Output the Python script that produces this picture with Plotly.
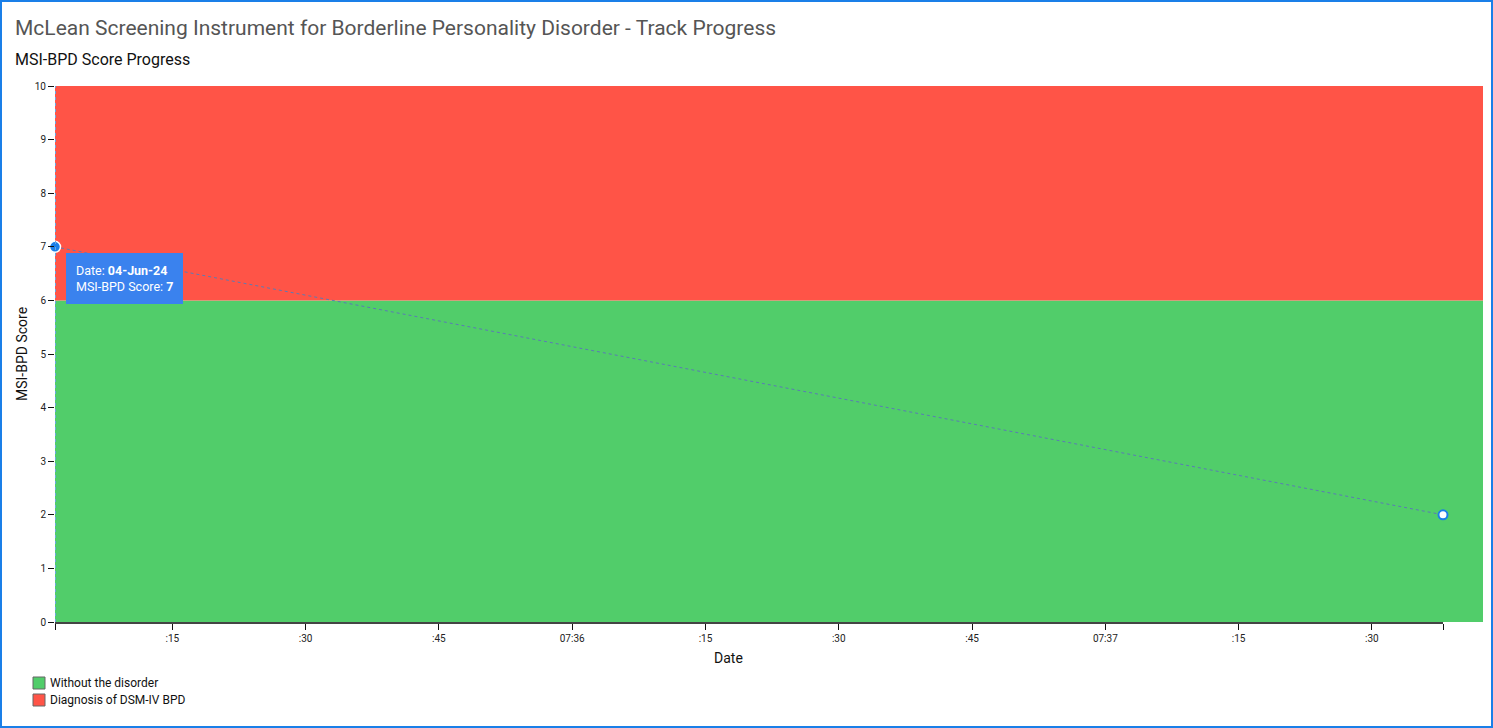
import plotly.graph_objects as go

# ---- data ----
dates = ["2024-06-04 07:35:01.8", "2024-06-04 07:37:38.0"]
scores = [7, 2]
band_labels = ["Without the disorder", "Diagnosis of DSM-IV BPD"]
band_ranges = [(0, 6), (6, 10)]
band_colors = ["#51CD6A", "#FF5447"]
tick_vals = ["2024-06-04 07:35:01.8", "2024-06-04 07:35:15", "2024-06-04 07:35:30",
             "2024-06-04 07:35:45", "2024-06-04 07:36:00", "2024-06-04 07:36:15",
             "2024-06-04 07:36:30", "2024-06-04 07:36:45", "2024-06-04 07:37:00",
             "2024-06-04 07:37:15", "2024-06-04 07:37:30", "2024-06-04 07:37:38.0"]
tick_text = ["", ":15", ":30", ":45", "07:36", ":15", ":30", ":45", "07:37", ":15", ":30", ""]
y_ticks = list(range(0, 11))

W, H = 1493, 728
L, R, T, B = 55, 1443, 86, 622
pw, ph = R - L, B - T


def px_x(x):
    return (x - L) / pw


def px_y(y):
    return (B - y) / ph


FONT = "Roboto, Arial, sans-serif"
fig = go.Figure()

# line
fig.add_trace(go.Scatter(
    x=dates, y=scores, mode="lines", showlegend=False,
    line=dict(color="#5a7bb5", width=1, dash="dot"), hoverinfo="skip"))
# markers
fig.add_trace(go.Scatter(
    x=dates[:1], y=scores[:1], mode="markers", showlegend=False, cliponaxis=False,
    marker=dict(size=11, color="#1a7fe8", line=dict(color="white", width=1.5)), hoverinfo="skip"))
fig.add_trace(go.Scatter(
    x=dates[1:], y=scores[1:], mode="markers", showlegend=False, cliponaxis=False,
    marker=dict(size=9, color="white", line=dict(color="#1a7fe8", width=2)), hoverinfo="skip"))

shapes = []
for (y0, y1), col in zip(band_ranges, band_colors):
    shapes.append(dict(type="rect", xref="paper", yref="y", x0=0, x1=px_x(1483),
                       y0=y0, y1=y1, fillcolor=col, line=dict(width=0), layer="below"))
# hover crosshair
shapes.append(dict(type="line", xref="x", yref="paper", x0=dates[0], x1=dates[0], y0=0, y1=1,
                   line=dict(color="#6aa5de", width=2, dash="dot")))
# page border
shapes.append(dict(type="rect", xref="paper", yref="paper", x0=px_x(1), x1=px_x(1492),
                   y0=px_y(727), y1=px_y(1), line=dict(color="#1a7fe8", width=2),
                   fillcolor="rgba(0,0,0,0)"))

annotations = [
    dict(text="MSI-BPD Score Progress", xref="paper", yref="paper", x=px_x(13), y=px_y(59),
         xanchor="left", yanchor="middle", showarrow=False, font=dict(size=16, color="#111", family=FONT)),
    dict(text="Date", xref="paper", yref="paper", x=px_x(728), y=px_y(658),
         xanchor="center", yanchor="middle", showarrow=False, font=dict(size=14, color="#111", family=FONT)),
    dict(text="Date: <b>" + "04-Jun-24" + "</b><br>MSI-BPD Score: <b>" + str(scores[0]) + "</b>",
         x=dates[0], y=scores[0], xref="x", yref="y", xanchor="left", yanchor="top",
         xshift=11, yshift=-6, showarrow=False, align="left",
         bgcolor="#3a82ee", bordercolor="#3a82ee", borderpad=9,
         font=dict(size=12.5, color="white", family=FONT)),
]

# manual legend
for i, (lab, col) in enumerate(zip(band_labels, band_colors)):
    cy = 683 + i * 17
    shapes.append(dict(type="rect", xref="paper", yref="paper",
                       x0=px_x(33), x1=px_x(45), y0=px_y(cy + 6), y1=px_y(cy - 6),
                       fillcolor=col, line=dict(color="#666", width=1)))
    annotations.append(dict(text=lab, xref="paper", yref="paper", x=px_x(48), y=px_y(cy),
                            xanchor="left", yanchor="middle", showarrow=False,
                            font=dict(size=12, color="#111", family=FONT)))

fig.update_layout(
    width=W, height=H,
    margin=dict(l=L, r=W - R, t=T, b=H - B, autoexpand=False),
    paper_bgcolor="white", plot_bgcolor="rgba(0,0,0,0)",
    font=dict(family=FONT, color="#111"),
    title=dict(text="McLean Screening Instrument for Borderline Personality Disorder - Track Progress",
               xref="container", yref="container", x=15 / W, y=1 - 28 / H,
               xanchor="left", yanchor="middle", font=dict(size=21, color="#555", family=FONT)),
    xaxis=dict(type="date", range=[dates[0], dates[-1]], tickvals=tick_vals, ticktext=tick_text,
               ticks="outside", ticklen=6, tickcolor="#111", tickwidth=1,
               showline=True, linecolor="#444", linewidth=1.5, showgrid=False, zeroline=False,
               tickfont=dict(size=10, color="#222")),
    yaxis=dict(range=[0, 10], tickvals=y_ticks, ticks="outside", ticklen=6, tickcolor="#111",
               showline=False, showgrid=False, zeroline=False,
               tickfont=dict(size=10, color="#222"),
               title=dict(text="MSI-BPD Score", font=dict(size=14, color="#111"), standoff=3)),
    shapes=shapes, annotations=annotations, showlegend=False,
)

fig.write_html("out.html")
